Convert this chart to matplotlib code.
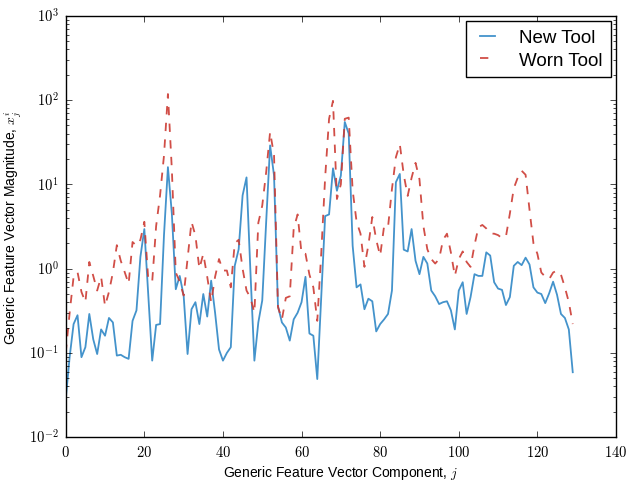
import numpy as np
import matplotlib
matplotlib.use('agg')
import matplotlib.pyplot as plt
from matplotlib.ticker import FuncFormatter

# значения (компоненты 0..129)
new_tool = [0.028, 0.09, 0.22, 0.28, 0.089, 0.117, 0.29, 0.145, 0.097, 0.19,
            0.16, 0.26, 0.23, 0.093, 0.095, 0.089, 0.085, 0.24, 0.32, 1.38,
            2.95, 0.5, 0.081, 0.215, 0.22, 2.5, 16, 4.5, 0.57, 0.82,
            0.48, 0.097, 0.33, 0.40, 0.22, 0.5, 0.27, 0.72, 0.3, 0.11,
            0.081, 0.10, 0.117, 1.08, 1.7, 7.4, 12.1, 0.9, 0.081, 0.23,
            0.42, 3.6, 29, 12.7, 0.36, 0.23, 0.2, 0.14, 0.25, 0.3,
            0.4, 0.8, 0.17, 0.16, 0.049, 0.45, 4.2, 4.4, 15.5, 8.4,
            12.7, 55, 40, 1.87, 0.6, 0.65, 0.33, 0.44, 0.41, 0.18,
            0.22, 0.25, 0.29, 0.55, 10.6, 13.3, 1.68, 1.6, 2.95, 1.24,
            0.86, 1.38, 1.15, 0.55, 0.47, 0.38, 0.40, 0.41, 0.32, 0.19,
            0.55, 0.69, 0.29, 0.46, 0.86, 0.82, 0.82, 1.56, 1.43, 0.69,
            0.58, 0.56, 0.37, 0.46, 1.08, 1.2, 1.1, 1.35, 1.12, 0.6,
            0.52, 0.50, 0.39, 0.51, 0.7, 0.49, 0.29, 0.26, 0.19, 0.059]

worn_tool = [0.1, 0.3, 0.8, 0.91, 0.53, 0.40, 1.2, 0.82, 0.55, 0.8,
             0.36, 0.53, 0.9, 1.9, 1.24, 0.91, 0.66, 2.07, 1.87, 2.2,
             3.6, 0.75, 0.7, 3.2, 7.4, 22, 118, 15, 0.9, 0.7,
             0.48, 1.3, 3.6, 2.46, 1.0, 1.5, 0.8, 0.40, 0.8, 1.3,
             0.95, 0.95, 0.6, 2.0, 2.2, 1.0, 0.55, 0.45, 0.3, 3.5,
             5.6, 14, 42, 22, 0.35, 0.25, 0.45, 0.47, 3.0, 4.4,
             1.5, 1.5, 0.85, 0.6, 0.24, 1.5, 12, 60, 98, 6.7,
             10, 60, 62, 8.5, 3.6, 2.6, 1.05, 1.9, 4.1, 2.2,
             1.42, 3.2, 3.1, 8.8, 21, 30, 13, 7.3, 12, 18,
             11.5, 3.2, 1.7, 1.3, 1.15, 1.3, 2.2, 2.6, 1.55, 0.82,
             1.3, 1.6, 1.2, 1.05, 1.9, 3.1, 3.3, 3.0, 2.6, 2.6,
             2.5, 2.3, 2.4, 4.5, 9, 12, 14.5, 13, 5, 2,
             1.5, 0.9, 0.8, 0.75, 0.9, 0.95, 0.85, 0.6, 0.4, 0.22]

components = np.arange(len(new_tool))

plt.style.use('classic')
plt.rcParams['mathtext.fontset'] = 'cm'
plt.rcParams['font.family'] = ['Liberation Sans', 'DejaVu Sans']

fig = plt.figure(figsize=(6.26, 4.81), dpi=100, facecolor='white')
ax = fig.add_axes([0.105, 0.089, 0.879, 0.876])

ax.semilogy(components, new_tool, color='#2f87c6', lw=1.3, alpha=0.9, label='New Tool')
ax.semilogy(components, worn_tool, color='#cc3b33', lw=1.3, ls='--', alpha=0.9, label='Worn Tool')

ax.set_xlim(0, 140)
ax.set_ylim(1e-2, 1e3)
ax.xaxis.set_major_formatter(FuncFormatter(lambda v, p: r'$\mathrm{%d}$' % v))
ax.yaxis.set_major_formatter(FuncFormatter(
    lambda v, p: r'$\mathrm{10^{%d}}$' % int(round(np.log10(v)))))
ax.tick_params(labelsize=10.5, pad=5)

ax.set_xlabel('Generic Feature Vector Component, $j$', fontsize=10)
ax.set_ylabel('Generic Feature Vector Magnitude, $x_j^i$', fontsize=10)
ax.xaxis.set_label_coords(0.5, -0.061)
ax.yaxis.set_label_coords(-0.076, 0.5)

ax.legend(loc='upper right', fontsize=13.5, frameon=True, fancybox=False,
          handlelength=1.4, handletextpad=1.0, borderaxespad=0.25,
          labelspacing=0.3, borderpad=0.45)

fig.savefig('out.png', dpi=100, facecolor='white')
